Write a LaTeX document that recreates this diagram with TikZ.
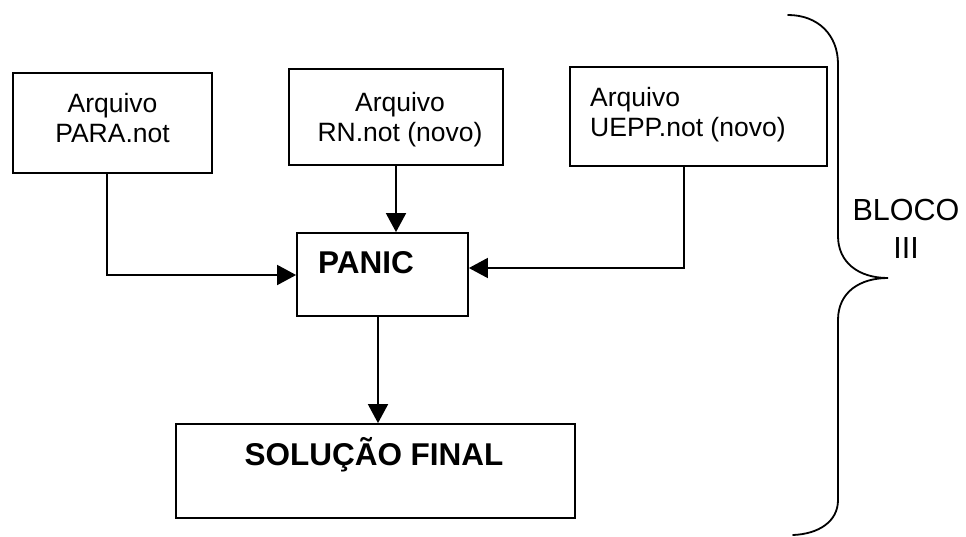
\documentclass[tikz,border=0pt]{standalone}
\usepackage{fontspec}
\setmainfont{Liberation Sans}
\usetikzlibrary{arrows.meta}
\begin{document}
\begin{tikzpicture}[x=1pt,y=-1pt,
  boxnode/.style={draw, line width=1.8pt, inner sep=0pt, rectangle},
  filetext/.style={inner sep=0pt, font=\fontsize{26.5}{30}\selectfont},
  boldtext/.style={inner sep=0pt, font=\fontsize{31.5}{36}\selectfont\bfseries},
  arr/.style={line width=1.8pt, -{Triangle[length=19pt,width=20pt]}},
  conn/.style={line width=1.8pt}
]
\useasboundingbox (0,0) rectangle (966,536);

% boxes
\node[boxnode, minimum width=199pt, minimum height=100pt] (para) at (112.5,123) {};
\node[boxnode, minimum width=214pt, minimum height=96pt] (rn) at (396,117) {};
\node[boxnode, minimum width=257pt, minimum height=99pt] (uepp) at (698.5,116.5) {};
\node[boxnode, minimum width=171pt, minimum height=83pt] (panic) at (382.5,274.5) {};
\node[boxnode, minimum width=399pt, minimum height=94pt] (sol) at (375.5,471) {};

% texts
\node[filetext, anchor=north, align=center] (paratext) at (112.5,93.5) {Arquivo\\PARA.not};
\node[filetext, anchor=north, align=center] (rntext) at (400,92) {Arquivo\\RN.not (novo)};
\node[filetext, anchor=north west, align=left] (uepptext) at (590,87) {Arquivo\\UEPP.not (novo)};
\node[boldtext, anchor=center] (panictext) at (366,263) {PANIC};
\node[boldtext, anchor=base] (soltext) at (374,465) {SOLUÇÃO FINAL};
\node[inner sep=0pt, anchor=north, align=center, font=\fontsize{30.5}{38}\selectfont] (bloco) at (906,199) {BLOCO\\III};

% connector helper coordinates
\coordinate (px) at (107,275);
\coordinate (ux) at (684,268);
\coordinate (sx) at (378,0);

% connectors
\draw[arr] (para.south -| px) -- (px) -- (panic.west |- px);
\draw[arr] (rn.south) -- (rn.south |- panic.north);
\draw[arr] (uepp.south -| ux) -- (ux) -- (panic.east |- ux);
\draw[arr] (panic.south -| sx) -- (sol.north -| sx);

% brace
\draw[line width=1.8pt, line cap=round]
  (788,15) .. controls (818,15) and (838,35) .. (838,64)
  -- (838,236)
  .. controls (838,262) and (858,278) .. (888,278)
  .. controls (860,278) and (838,292) .. (838,320)
  -- (838,500)
  .. controls (838,522) and (818,534) .. (793,535);
\end{tikzpicture}
\end{document}
